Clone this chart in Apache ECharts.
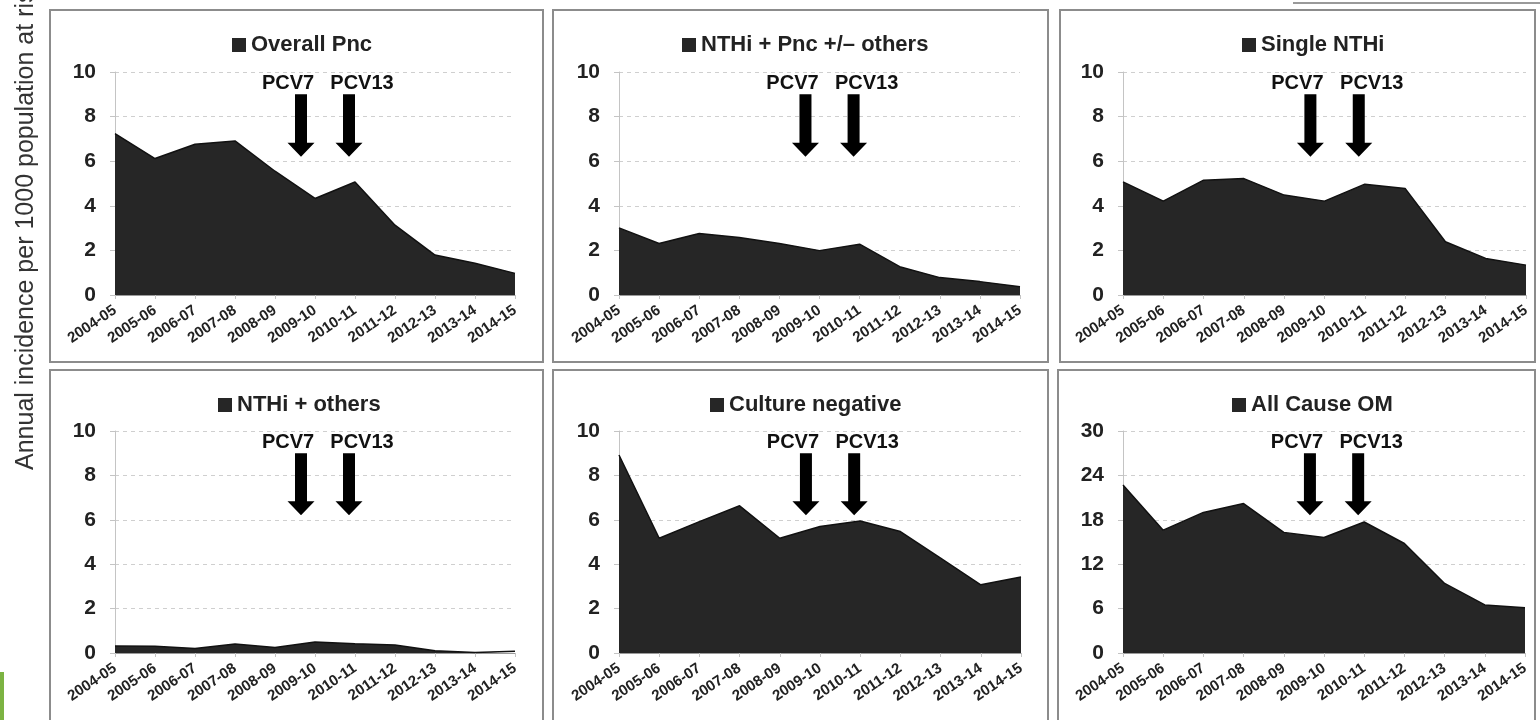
<!DOCTYPE html>
<html>
<head>
<meta charset="utf-8">
<title>Otitis media incidence by season</title>
<script src="https://cdn.jsdelivr.net/npm/echarts@6/dist/echarts.min.js"></script>
<style>
  html, body { margin: 0; padding: 0; background: #fff; }
  #chart { width: 1540px; height: 720px; }
</style>
</head>
<body>
<div id="chart"></div>
<script>
// seasons on the x axis
const seasons = ['2004-05', '2005-06', '2006-07', '2007-08', '2008-09', '2009-10',
  '2010-11', '2011-12', '2012-13', '2013-14', '2014-15'];

// annual incidence per 1000 population at risk
const overallPnc = [7.24, 6.12, 6.76, 6.91, 5.55, 4.33, 5.07, 3.13, 1.79, 1.42, 0.97];
const nthiPncOthers = [3.01, 2.31, 2.76, 2.58, 2.31, 1.99, 2.28, 1.27, 0.78, 0.6, 0.37];
const singleNthi = [5.07, 4.21, 5.15, 5.22, 4.48, 4.21, 4.97, 4.78, 2.39, 1.64, 1.34];
const nthiOthers = [0.32, 0.3, 0.2, 0.4, 0.25, 0.5, 0.42, 0.36, 0.1, 0.02, 0.08];
const cultureNegative = [8.92, 5.17, 5.92, 6.63, 5.17, 5.7, 5.95, 5.47, 4.27, 3.07, 3.42];
const allCauseOM = [22.7, 16.6, 19.0, 20.2, 16.3, 15.6, 17.7, 14.8, 9.4, 6.5, 6.1];

// y axis ticks per panel
const yMaxList = [10, 10, 10, 10, 10, 30];
const yStepList = [2, 2, 2, 2, 2, 6];

// vaccine introduction markers (position along the season axis)
const vaccineNames = ['PCV7', 'PCV13'];
const vaccinePos = [4.65, 5.85];

const FONT = '"Liberation Sans", Arial, Helvetica, sans-serif';

// panel layout
const panels = [
  { name: 'Overall Pnc', data: overallPnc, grid: { left: 115, top: 72, width: 400, height: 223 }, legendLeft: 227, legendTop: 29, box: [50, 10, 493, 352] },
  { name: 'NTHi + Pnc +/– others', data: nthiPncOthers, grid: { left: 619, top: 72, width: 401, height: 223 }, legendLeft: 677, legendTop: 29, box: [553, 10, 495, 352] },
  { name: 'Single NTHi', data: singleNthi, grid: { left: 1123, top: 72, width: 403, height: 223 }, legendLeft: 1237, legendTop: 29, box: [1060, 10, 475, 352] },
  { name: 'NTHi + others', data: nthiOthers, grid: { left: 115, top: 431, width: 400, height: 222 }, legendLeft: 213, legendTop: 389, box: [50, 370, 493, 360] },
  { name: 'Culture negative', data: cultureNegative, grid: { left: 619, top: 431, width: 402, height: 222 }, legendLeft: 705, legendTop: 389, box: [553, 370, 495, 360] },
  { name: 'All Cause OM', data: allCauseOM, grid: { left: 1123, top: 431, width: 402, height: 222 }, legendLeft: 1227, legendTop: 389, box: [1058, 370, 477, 360] },
];

function arrowRenderer(yMax) {
  return function (params, api) {
    const i = params.dataIndex;
    const p = vaccinePos[i];
    const lo = Math.floor(p);
    const x0 = api.coord([lo, 0])[0];
    const x1 = api.coord([lo + 1, 0])[0];
    const x = x0 + (p - lo) * (x1 - x0);
    const top = api.coord([lo, yMax * 0.9])[1];
    const tip = api.coord([lo, yMax * 0.62])[1];
    const headH = 14, shaftW = 6, headW = 13.5;
    const dx = i === 0 ? -13 : 13;
    return {
      type: 'group',
      children: [
        {
          type: 'polygon',
          shape: {
            points: [
              [x - shaftW, top], [x + shaftW, top], [x + shaftW, tip - headH],
              [x + headW, tip - headH], [x, tip], [x - headW, tip - headH], [x - shaftW, tip - headH]
            ]
          },
          style: { fill: '#000' }
        },
        {
          type: 'text',
          x: x + dx,
          y: top - 11,
          style: {
            text: vaccineNames[i],
            fill: '#111',
            font: 'bold 20px ' + FONT,
            align: 'center', verticalAlign: 'middle',
            textAlign: 'center', textVerticalAlign: 'middle'
          }
        }
      ]
    };
  };
}

const mychart = echarts.init(document.getElementById('chart'));

const option = {
  backgroundColor: '#fff',
  animation: false,
  grid: panels.map((p) => Object.assign({ containLabel: false }, p.grid)),
  legend: panels.map((p) => ({
    data: [p.name],
    left: p.legendLeft,
    top: p.legendTop,
    icon: 'rect',
    itemWidth: 14,
    itemHeight: 14,
    selectedMode: false,
    textStyle: { fontFamily: FONT, fontSize: 22, fontWeight: 'bold', color: '#222' },
  })),
  xAxis: panels.map((p, i) => ({
    type: 'category',
    gridIndex: i,
    data: seasons,
    boundaryGap: false,
    axisLine: { lineStyle: { color: '#9a9a9a', width: 1 } },
    axisTick: { show: true, length: 4, lineStyle: { color: '#c4c4c4' } },
    axisLabel: {
      interval: 0,
      rotate: 34,
      margin: 14,
      fontFamily: FONT,
      fontSize: 15,
      fontWeight: 'bold',
      color: '#222',
    },
    splitLine: { show: false },
  })),
  yAxis: panels.map((p, i) => ({
    type: 'value',
    gridIndex: i,
    min: 0,
    max: yMaxList[i],
    interval: yStepList[i],
    axisLine: { show: true, lineStyle: { color: '#c4c4c4' } },
    axisTick: { show: true, length: 5, lineStyle: { color: '#c4c4c4' } },
    axisLabel: { fontFamily: FONT, fontSize: 21, fontWeight: 'bold', color: '#222', margin: 19 },
    splitLine: { lineStyle: { type: [4, 4], color: '#cfcfcf' } },
  })),
  series: [],
  graphic: [],
};

panels.forEach((p, i) => {
  option.series.push({
    name: p.name,
    type: 'line',
    xAxisIndex: i,
    yAxisIndex: i,
    data: p.data,
    symbol: 'none',
    lineStyle: { color: '#111', width: 1.5 },
    areaStyle: { color: '#262626', opacity: 1 },
    itemStyle: { color: '#262626' },
  });
  option.series.push({
    type: 'custom',
    xAxisIndex: i,
    yAxisIndex: i,
    clip: false,
    silent: true,
    z: 5,
    data: vaccinePos.map((v) => [Math.floor(v), 0]),
    renderItem: arrowRenderer(yMaxList[i]),
  });
  option.graphic.push({
    type: 'rect',
    shape: { x: p.box[0], y: p.box[1], width: p.box[2], height: p.box[3] },
    style: { fill: 'none', stroke: '#8c8c8c', lineWidth: 2 },
    silent: true,
  });
});

// shared y axis title (cut off at the top like the original figure)
option.graphic.push({
  type: 'text',
  x: 26,
  y: 470,
  rotation: Math.PI / 2,
  style: {
    text: 'Annual incidence per 1000 population at risk',
    fill: '#333',
    font: '25px ' + FONT,
    align: 'left', verticalAlign: 'middle',
    textAlign: 'left', textVerticalAlign: 'middle',
  },
  silent: true,
});

// stray bits of the slide around the figure
option.graphic.push({
  type: 'line',
  shape: { x1: 1293, y1: 3, x2: 1540, y2: 3 },
  style: { stroke: '#9a9a9a', lineWidth: 2 },
  silent: true,
});
option.graphic.push({
  type: 'rect',
  shape: { x: 0, y: 672, width: 4, height: 48 },
  style: { fill: '#7cb342' },
  silent: true,
});

mychart.setOption(option);

window.addEventListener('resize', () => {
  mychart.resize();
});
</script>
</body>
</html>
